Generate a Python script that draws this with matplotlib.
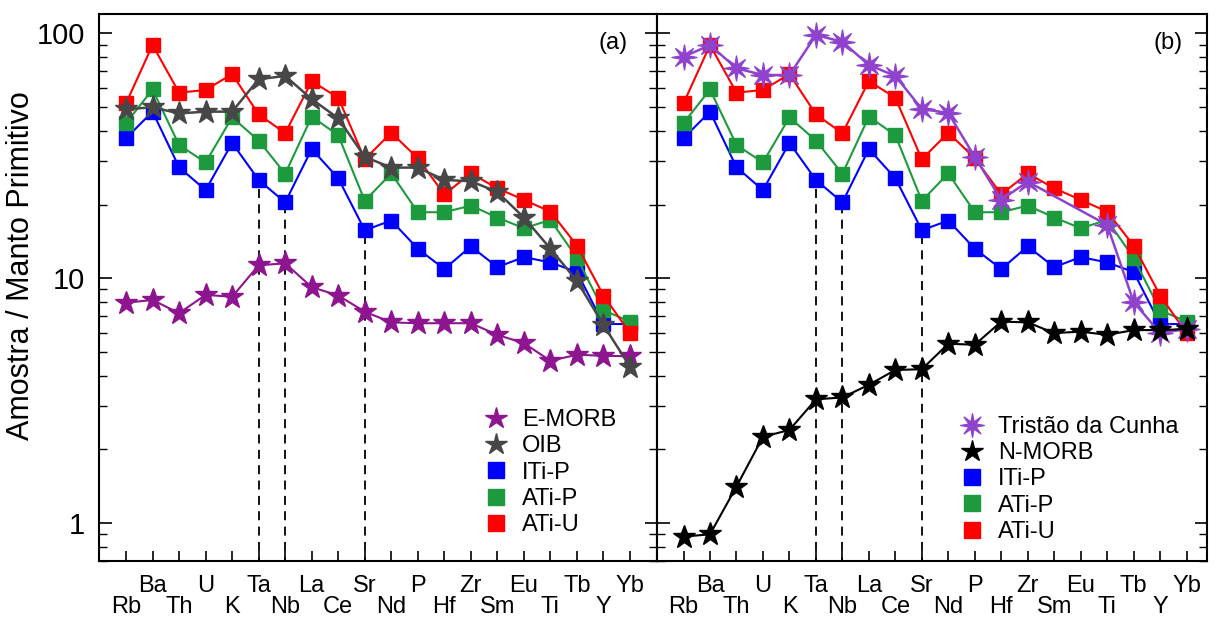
import matplotlib
matplotlib.use('Agg')
import matplotlib.pyplot as plt
from matplotlib.lines import Line2D
from matplotlib.path import Path
from matplotlib.ticker import LogLocator, NullFormatter, FixedLocator, FuncFormatter

plt.rcParams['font.family'] = ['Liberation Sans', 'DejaVu Sans']

# 元素顺序（原始地幔标准化蛛网图）
elements = ['Rb', 'Ba', 'Th', 'U', 'K', 'Ta', 'Nb', 'La', 'Ce', 'Sr',
            'Nd', 'P', 'Hf', 'Zr', 'Sm', 'Eu', 'Ti', 'Tb', 'Y', 'Yb']

# 样品平均值
ati_u = [51.8, 89.6, 57.3, 58.7, 68.2, 46.7, 39.1, 63.8, 54.6, 30.6,
         39.3, 30.9, 22.0, 26.8, 23.3, 20.9, 18.7, 13.6, 8.5, 5.97]
ati_p = [43.0, 59.0, 35.0, 29.7, 45.4, 36.5, 26.7, 45.7, 38.4, 20.7,
         26.8, 18.6, 18.6, 19.8, 17.7, 16.0, 17.3, 12.1, 7.4, 6.65]
iti_p = [37.3, 47.9, 28.4, 22.9, 35.7, 25.2, 20.4, 33.7, 25.6, 15.7,
         17.2, 13.2, 10.9, 13.5, 11.1, 12.2, 11.6, 10.6, 6.5, 6.5]

# 参考端元
oib = [49.0, 49.9, 47.1, 47.9, 47.9, 65.0, 67.0, 53.9, 45.0, 31.3,
       28.3, 28.3, 25.2, 24.9, 22.5, 17.7, 13.2, 9.75, 6.44, 4.35]
e_morb = [7.94, 8.15, 7.2, 8.55, 8.4, 11.3, 11.5, 9.2, 8.5, 7.3,
          6.6, 6.55, 6.55, 6.55, 5.87, 5.43, 4.6, 4.87, 4.82, 4.8]
tristao = [80.2, 89.6, 72.0, 67.6, 67.6, 98.4, 92.4, 74.3, 67.0, 49.1,
           47.3, 31.3, 20.9, 24.8, None, None, 16.5, 8.0, 5.97, 6.2]
n_morb = [0.88, 0.90, 1.41, 2.25, 2.40, 3.2, 3.26, 3.67, 4.22, 4.25,
          5.4, 5.35, 6.65, 6.6, 5.97, 6.05, 5.87, 6.14, 6.14, 6.2]

# 虚线标记的元素及其上端
guide_elems = ['Ta', 'Nb', 'Sr']
guide_top = [28.0, 20.4, 15.7]

RED, GREEN, BLUE = '#ff0000', '#1e9a3e', '#0000ff'
GRAY, PURPLE, LILAC = '#474747', '#8e1590', '#8f43cc'
spiky = Path.unit_regular_star(8, 0.32)

x = list(range(len(elements)))

fig = plt.figure(figsize=(12.16, 6.19), dpi=100)
ax1 = fig.add_axes([0.0814, 0.0937, 0.4585, 0.8837])
ax2 = fig.add_axes([0.5399, 0.0937, 0.4527, 0.8837])

sq = dict(marker='s', markersize=9.5, lw=1.5)


def draw_samples(ax):
    for vals, c in [(iti_p, BLUE), (ati_p, GREEN), (ati_u, RED)]:
        ax.plot(x, vals, color=c, mfc=c, mec=c, zorder=3, **sq)
    for name, top in zip(guide_elems, guide_top):
        xi = elements.index(name)
        ax.vlines(xi, 0.5, top, colors='black', linestyles=(0, (5, 3.5)),
                  lw=1.3, zorder=2)


def style_axes(ax, xmax):
    ax.set_yscale('log')
    ax.set_ylim(0.70, 120)
    ax.set_xlim(-1.02, xmax)
    ax.yaxis.set_major_locator(LogLocator(base=10, numticks=10))
    ax.yaxis.set_major_formatter(FuncFormatter(lambda v, p: f'{v:g}'))
    ax.yaxis.set_minor_locator(LogLocator(base=10, subs=range(2, 10), numticks=20))
    ax.yaxis.set_minor_formatter(NullFormatter())
    ax.tick_params(axis='y', which='major', direction='in', length=9, width=1.2,
                   left=True, right=True, labelsize=21, pad=10)
    ax.tick_params(axis='y', which='minor', direction='in', length=6, width=1.0,
                   left=True, right=True)
    # 上下两行交错的元素标签
    ax.xaxis.set_major_locator(FixedLocator(x[1::2]))
    ax.xaxis.set_minor_locator(FixedLocator(x[0::2]))
    ax.set_xticklabels(elements[1::2])
    ax.set_xticklabels(elements[0::2], minor=True)
    ax.tick_params(axis='x', which='both', direction='in', length=7, width=1.2,
                   top=False, labelsize=17)
    ax.tick_params(axis='x', which='major', pad=10)
    ax.tick_params(axis='x', which='minor', pad=25)
    for s in ax.spines.values():
        s.set_linewidth(1.5)


# (a) E-MORB 与 OIB
draw_samples(ax1)
ax1.plot(x, e_morb, color=PURPLE, marker='*', markersize=17, lw=1.5, zorder=4)
ax1.plot(x, oib, color=GRAY, marker='*', markersize=17, lw=1.8, zorder=4)
style_axes(ax1, 20.0)
ax1.set_ylabel('Amostra / Manto Primitivo', fontsize=22)
ax1.yaxis.set_label_coords(-0.113, 0.54)
ax1.text(0.922, 0.947, '(a)', transform=ax1.transAxes, fontsize=17,
         ha='center', va='center')

# (b) Tristão da Cunha 与 N-MORB
draw_samples(ax2)
tx = [i for i, v in zip(x, tristao) if v is not None]
ty = [v for v in tristao if v is not None]
ax2.plot(tx, ty, color=LILAC, marker=spiky, markersize=18, lw=1.8, zorder=4)
ax2.plot(x, n_morb, color='black', marker='*', markersize=17, lw=1.5, zorder=4)
style_axes(ax2, 19.77)
ax2.tick_params(axis='y', which='both', labelleft=False)
ax2.text(0.929, 0.947, '(b)', transform=ax2.transAxes, fontsize=17,
         ha='center', va='center')


def proxy(marker, c, ms):
    return Line2D([], [], ls='none', marker=marker, color=c, markersize=ms)


squares = [proxy('s', BLUE, 11), proxy('s', GREEN, 11), proxy('s', RED, 11)]
sq_names = ['ITi-P', 'ATi-P', 'ATi-U']
leg_kw = dict(loc='lower left', frameon=False, fontsize=17, labelspacing=0.18,
              handletextpad=0.5, borderaxespad=0, handlelength=1.2)

ax1.legend([proxy('*', PURPLE, 16), proxy('*', GRAY, 16)] + squares,
           ['E-MORB', 'OIB'] + sq_names, bbox_to_anchor=(0.67, 0.028), **leg_kw)
ax2.legend([proxy(spiky, LILAC, 17), proxy('*', 'black', 16)] + squares,
           ['Tristão da Cunha', 'N-MORB'] + sq_names,
           bbox_to_anchor=(0.53, 0.016), **leg_kw)

plt.savefig('out.png', dpi=100)
